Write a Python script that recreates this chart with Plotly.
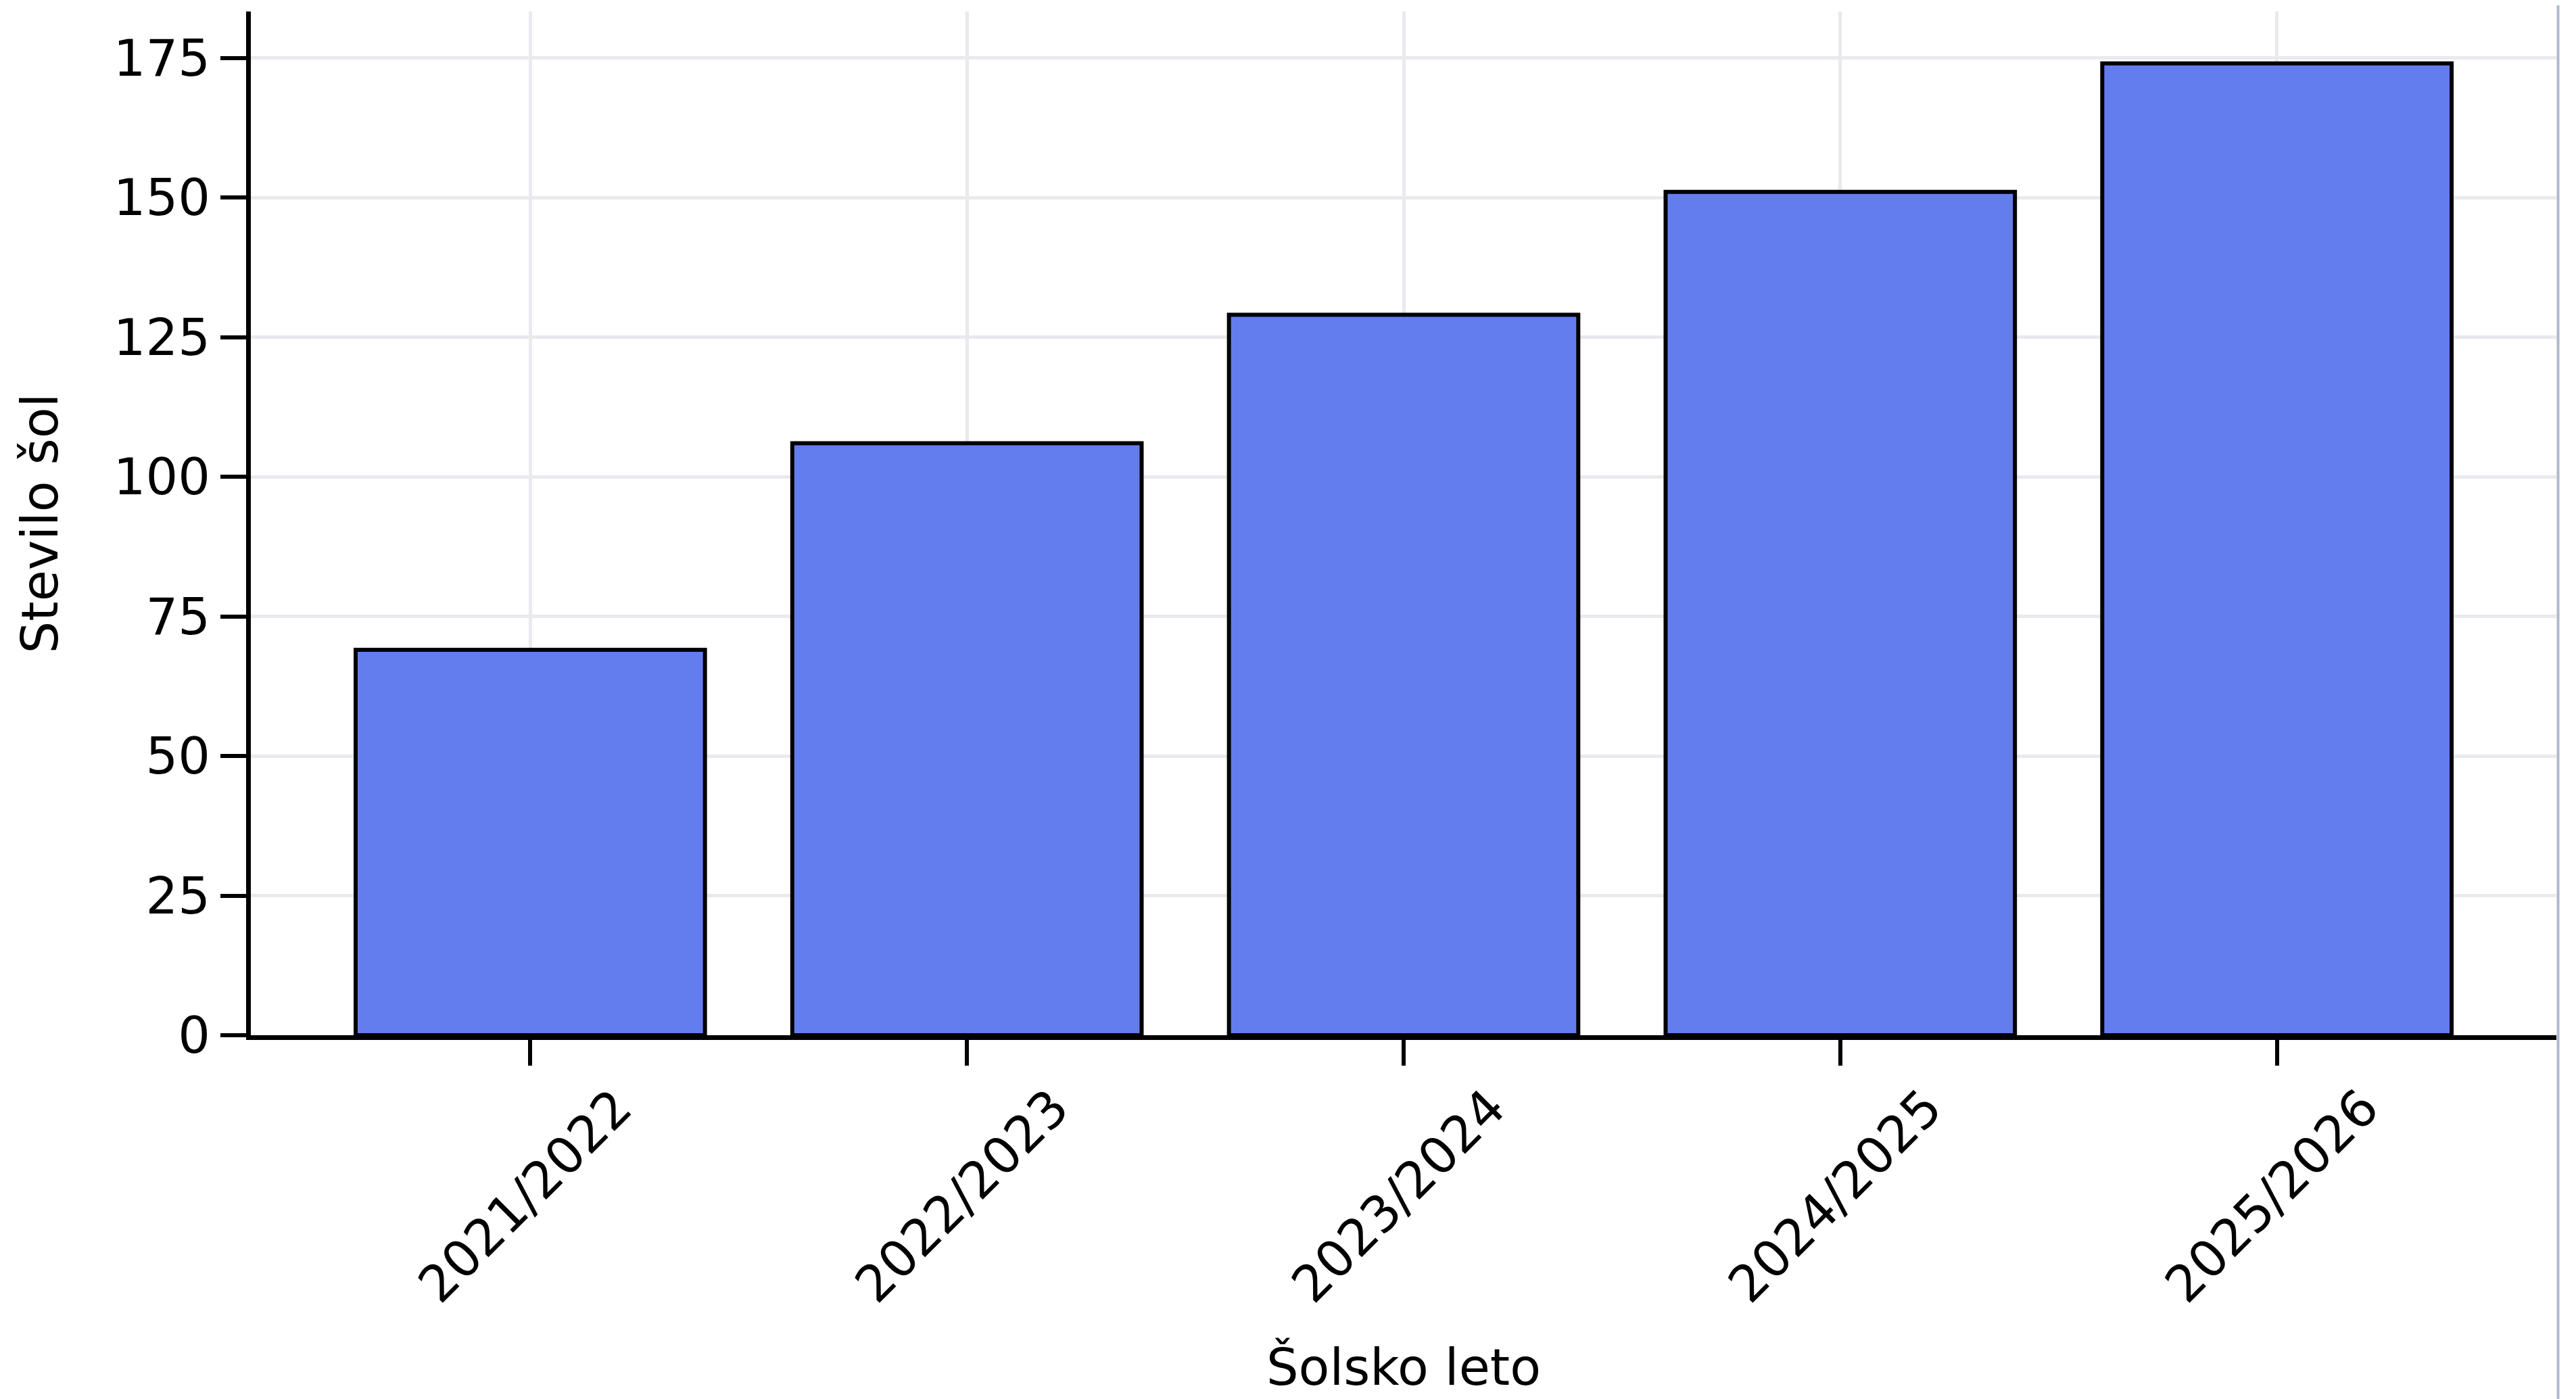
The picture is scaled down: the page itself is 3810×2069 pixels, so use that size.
import plotly.graph_objects as go

categories = ["2021/2022", "2022/2023", "2023/2024", "2024/2025", "2025/2026"]
values = [69, 106, 129, 151, 174]
y_ticks = [0, 25, 50, 75, 100, 125, 150, 175]

W, H = 3810, 2069
L, R, T, B = 363, 37, 9, 546
FS = 75

fig = go.Figure(
    go.Bar(
        x=categories,
        y=values,
        width=0.8,
        marker=dict(color="#647DEE", line=dict(color="black", width=6)),
        hoverinfo="x+y",
    )
)

fig.update_layout(
    width=W,
    height=H,
    margin=dict(l=L, r=R, t=T, b=B),
    plot_bgcolor="white",
    paper_bgcolor="white",
    font=dict(family="DejaVu Sans", size=FS, color="black"),
    showlegend=False,
)

fig.update_xaxes(
    range=[-0.64, 4.64],
    showline=True,
    linecolor="black",
    linewidth=7,
    ticks="outside",
    ticklen=38,
    tickwidth=6,
    tickcolor="black",
    tickangle=-45,
    ticklabelshift=128,
    ticklabelstandoff=-12,
    showgrid=True,
    gridcolor="#e9e9ee",
    gridwidth=5,
    tickfont=dict(size=FS),
    title=dict(text="Šolsko leto", standoff=55, font=dict(size=FS)),
    automargin=False,
)

fig.update_yaxes(
    range=[0, 183.3],
    tickvals=y_ticks,
    showline=True,
    linecolor="black",
    linewidth=7,
    ticks="outside",
    ticklen=38,
    tickwidth=6,
    tickcolor="black",
    showgrid=True,
    gridcolor="#e9e9ee",
    gridwidth=5,
    zeroline=False,
    tickfont=dict(size=FS),
    title=dict(text="Stevilo šol", standoff=60, font=dict(size=FS)),
    automargin=False,
)

# container border seen at the right and bottom edges of the reference
pw = W - L - R
ph = H - T - B
border = "#aeb9cb"
xr = 1 + 2.5 / pw
fig.add_shape(type="line", xref="paper", yref="paper",
              x0=xr, x1=xr, y0=-(B) / ph, y1=1 + T / ph,
              line=dict(color=border, width=4))
yb = -(B - 2) / ph
fig.add_shape(type="line", xref="paper", yref="paper",
              x0=-L / pw, x1=xr, y0=yb, y1=yb,
              line=dict(color=border, width=4))

fig.write_html("out.html", config={"displayModeBar": False})
